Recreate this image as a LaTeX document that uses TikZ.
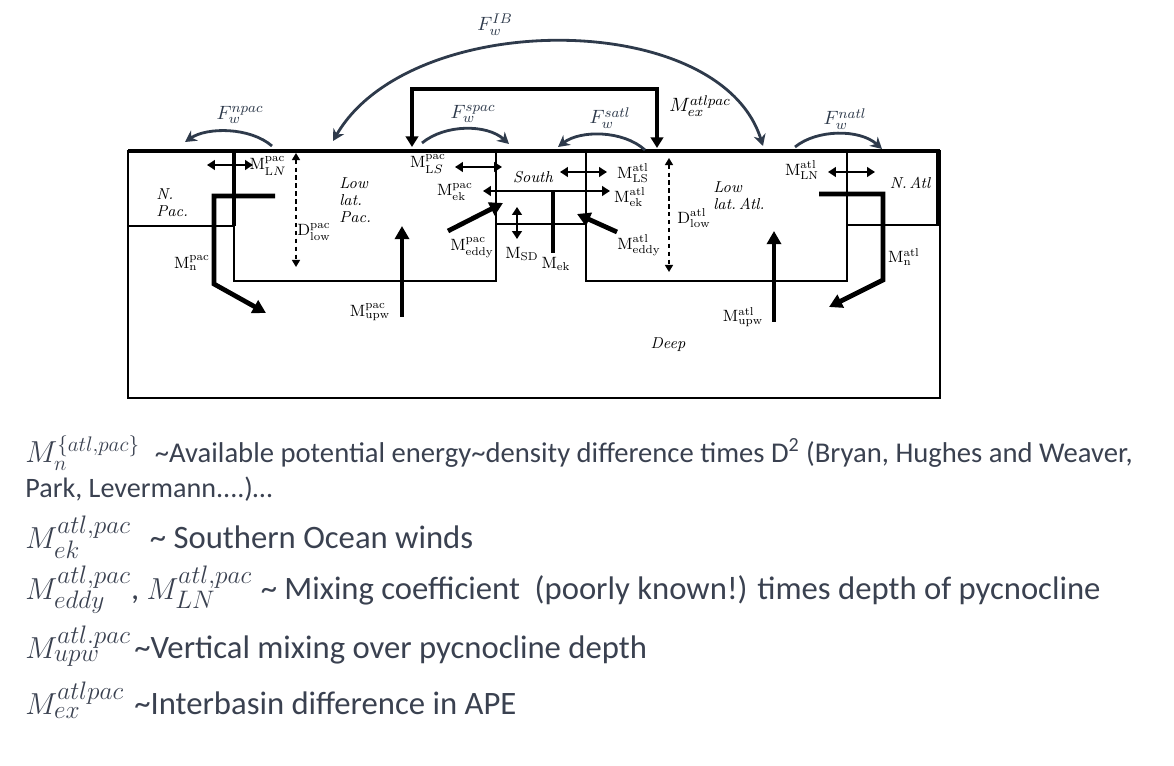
\documentclass[tikz,border=0pt]{standalone}
\usepackage{fontspec}
\newfontfamily\legendfont{Carlito}
\usepackage{tikz}
\usetikzlibrary{arrows.meta}

\definecolor{arcgray}{HTML}{2E3A4B}
\definecolor{legendgray}{HTML}{3A4150}

\DeclareMathSizes{19}{19}{15}{11}
\DeclareMathSizes{16.5}{16.5}{13}{10}
\newcommand{\Mlab}[2]{$\mathrm{M}^{\mathrm{#1}}_{\mathrm{#2}}$}
\newcommand{\legmath}[1]{{\fontsize{19}{20}\selectfont$#1$}}
\newcommand{\legmathsmall}[1]{{\fontsize{16.5}{18}\selectfont$#1$}}

\tikzset{
  basin/.style={line width=1.3pt},
  bigflow/.style={line width=2.7pt, -{Triangle[length=7.5pt,width=8pt]}},
  mixflow/.style={line width=1.5pt, {Triangle[length=4.5pt,width=5.5pt]}-{Triangle[length=4.5pt,width=5.5pt]}},
  depthline/.style={line width=0.9pt, dash pattern=on 2.5pt off 2pt,
    {Triangle[length=4pt,width=4.5pt]}-{Triangle[length=4pt,width=4.5pt]}},
  fwflow/.style={arcgray, line width=1.6pt, -{Stealth[length=6.5pt,width=7pt]}},
  lbl/.style={font=\fontsize{9.3}{10}\selectfont, inner sep=0pt},
  region/.style={font=\fontsize{9}{9.8}\selectfont\itshape, inner sep=0pt, align=left},
  fwlabel/.style={arcgray, font=\fontsize{11}{12}\selectfont, inner sep=0pt},
  legend/.style={legendgray, anchor=west, inner sep=0pt},
}

\begin{document}
\begin{tikzpicture}[x=0.02cm, y=-0.02cm]
\useasboundingbox (0,0) rectangle (1174,766);

% Basins
\draw[basin, line width=1.6pt] (128,151) rectangle (940,398);
\draw[basin] (128,151) rectangle (234,226);
\draw[basin] (234,151) rectangle (496,281);
\draw[basin] (496,151) rectangle (586,224);
\draw[basin] (586,151) rectangle (847,281);
\draw[basin] (847,151) rectangle (938,225);
\draw[line width=2.4pt] (128,151) -- (940,151);
\draw[line width=2.2pt] (938,151) -- (938,225);
\draw[line width=2pt] (234,151) -- (234,226);

% Region names
\node[region, anchor=west] (npac) at (156,203) {N.\\Pac.};
\node[region, anchor=west] (lowpac) at (339,200) {Low\\lat.\\Pac.};
\node[region] (south) at (533,177) {South};
\node[region, anchor=west] (lowatl) at (713,196) {Low\\lat.\,Atl.};
\node[region] (natl) at (910,183) {N.\,Atl};
\node[region] (deep) at (668,345) {Deep};

% Arrow ends
\coordinate (npacA) at (275,196);  \coordinate (npacB) at (214,196);
\coordinate (npacC) at (214,284);  \coordinate (npacD) at (266,313);
\coordinate (natlA) at (819,194);  \coordinate (natlB) at (883,194);
\coordinate (natlC) at (883,280);  \coordinate (natlD) at (829,307);
\coordinate (upwpacA) at (402,317); \coordinate (upwpacB) at (402,226);
\coordinate (upwatlA) at (774,322); \coordinate (upwatlB) at (774,231);
\coordinate (eddypacA) at (448,231); \coordinate (eddypacB) at (503,203);
\coordinate (eddyatlA) at (617,232); \coordinate (eddyatlB) at (577,214);
\coordinate (lnpacA) at (207,165); \coordinate (lnpacB) at (253,165);
\coordinate (lspacA) at (455,167); \coordinate (lspacB) at (502,167);
\coordinate (lsatlA) at (560,172); \coordinate (lsatlB) at (607,172);
\coordinate (lnatlA) at (828,172); \coordinate (lnatlB) at (875,172);
\coordinate (ekA) at (483,191);    \coordinate (ekB) at (610,191);
\coordinate (ekC) at (553,253);    \coordinate (ekD) at (553,191);
\coordinate (sdA) at (517,207);    \coordinate (sdB) at (517,239);
\coordinate (dpacA) at (296,153);  \coordinate (dpacB) at (296,267);
\coordinate (datlA) at (669,158);  \coordinate (datlB) at (669,272);
\coordinate (exA) at (412,147);    \coordinate (exB) at (412,89);
\coordinate (exC) at (657,89);     \coordinate (exD) at (657,148);

% Overturning and mixing
\draw[bigflow] (npacA) -- (npacB) -- (npacC) -- (npacD);
\draw[bigflow] (natlA) -- (natlB) -- (natlC) -- (natlD);
\draw[bigflow] (upwpacA) -- (upwpacB);
\draw[bigflow] (upwatlA) -- (upwatlB);
\draw[bigflow] (eddypacA) -- (eddypacB);
\draw[bigflow] (eddyatlA) -- (eddyatlB);
\draw[line width=2.7pt] (ekC) -- (ekD);
\draw[mixflow] (ekA) -- (ekB);
\foreach \a/\b in {lnpacA/lnpacB, lspacA/lspacB, lsatlA/lsatlB, lnatlA/lnatlB, sdA/sdB}
  \draw[mixflow] (\a) -- (\b);
\draw[depthline] (dpacA) -- (dpacB);
\draw[depthline] (datlA) -- (datlB);
\draw[line width=2.3pt, {Triangle[length=6pt,width=7pt]}-{Triangle[length=6pt,width=7pt]}]
  (exA) -- (exB) -- (exC) -- (exD);

% Freshwater fluxes
\draw[fwflow] (272,146) .. controls (250,127) and (207,127) .. (185,142);
\draw[fwflow] (422,143) .. controls (445,124) and (487,124) .. (509,144);
\draw[fwflow] (645,150) .. controls (623,130) and (580,130) .. (558,147);
\draw[fwflow] (795,147) .. controls (817,129) and (860,129) .. (882,149);
\draw[fwflow, {Stealth[length=6.5pt,width=7pt]}-{Stealth[length=6.5pt,width=7pt]}]
  (333,141) .. controls (410,8) and (720,8) .. (763,146);

% Labels
\node[lbl] (lnpac) at (268,166) {$\mathrm{M}^{\mathrm{pac}}_{\mathrm{L}N}$};
\node[lbl] (npaclbl) at (192,263) {\Mlab{pac}{n}};
\node[lbl] (dpac) at (314,232) {$\mathrm{D}^{\mathrm{pac}}_{\mathrm{low}}$};
\node[lbl] (upwpac) at (370,312) {\Mlab{pac}{upw}};
\node[lbl] (lspac) at (428,164) {$\mathrm{M}^{\mathrm{pac}}_{\mathrm{L}S}$};
\node[lbl] (ekpac) at (455,192) {\Mlab{pac}{ek}};
\node[lbl] (eddypac) at (472,248) {\Mlab{pac}{eddy}};
\node[lbl] (sd) at (522,254) {$\mathrm{M}_{\mathrm{SD}}$};
\node[lbl] (ek) at (556,264) {$\mathrm{M}_{\mathrm{ek}}$};
\node[lbl] (lsatl) at (633,173) {\Mlab{atl}{LS}};
\node[lbl] (ekatl) at (630,197) {\Mlab{atl}{ek}};
\node[lbl] (eddyatl) at (639,245) {\Mlab{atl}{eddy}};
\node[lbl] (datl) at (694,218) {$\mathrm{D}^{\mathrm{atl}}_{\mathrm{low}}$};
\node[lbl] (lnatl) at (802,170) {\Mlab{atl}{LN}};
\node[lbl] (natllbl) at (904,257) {\Mlab{atl}{n}};
\node[lbl] (upwatl) at (743,317) {\Mlab{atl}{upw}};
\node[fwlabel, black] (ex) at (700,106) {$M_{ex}^{atlpac}$};
\node[fwlabel] (fnpac) at (240,115) {$F_w^{npac}$};
\node[fwlabel] (fspac) at (473,114) {$F_w^{spac}$};
\node[fwlabel] (fsatl) at (610,118) {$F_w^{satl}$};
\node[fwlabel] (fnatl) at (845,119) {$F_w^{natl}$};
\node[fwlabel] (fib) at (495,25) {$F_w^{IB}$};

% Legend
\node[legend, font=\legendfont\fontsize{16.3}{19}\selectfont] (leg1) at (25,453)
  {\makebox[73.7pt][l]{\legmathsmall{M_n^{\{atl,pac\}}}}\textasciitilde Available potential energy\textasciitilde density difference times D\textsuperscript{2} (Bryan, Hughes and Weaver,};
\node[legend, font=\legendfont\fontsize{16}{19}\selectfont] (leg2) at (25,489) {Park, Levermann....)…};
\node[legend, font=\legendfont\fontsize{18.6}{21}\selectfont] (leg3) at (25,537)
  {\makebox[70.9pt][l]{\legmath{M_{ek}^{atl,pac}}}\textasciitilde\ Southern Ocean winds};
\node[legend, font=\legendfont\fontsize{18.6}{21}\selectfont] (leg4) at (25,590)
  {\makebox[134pt][l]{\legmath{M_{eddy}^{atl,pac}}, \legmath{M_{LN}^{atl,pac}}}\textasciitilde{} Mixing coefficient\ \ (poorly known!) times depth of pycnocline};
\node[legend, font=\legendfont\fontsize{18.6}{21}\selectfont] (leg5) at (25,646)
  {\makebox[62pt][l]{\legmath{M_{upw}^{atl.pac}}}\textasciitilde Vertical mixing over pycnocline depth};
\node[legend, font=\legendfont\fontsize{18.6}{21}\selectfont] (leg6) at (25,700)
  {\makebox[62pt][l]{\legmath{M_{ex}^{atlpac}}}\textasciitilde Interbasin difference in APE};

\end{tikzpicture}
\end{document}
